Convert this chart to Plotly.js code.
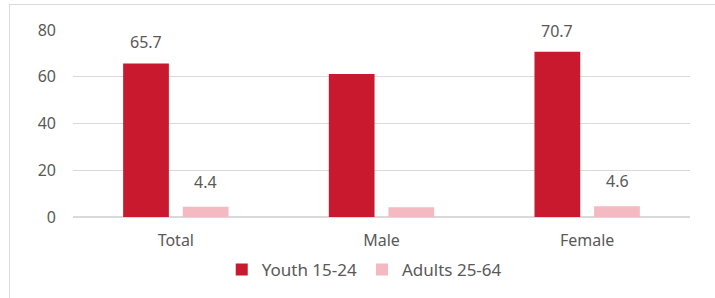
<!DOCTYPE html>
<html>
<head>
<meta charset="utf-8">
<script src="https://cdn.plot.ly/plotly-3.0.1.min.js"></script>
<style>
  html, body { margin: 0; padding: 0; background: #fff; }
  #wrap { position: relative; width: 715px; height: 298px; overflow: hidden; }
  #chart { position: absolute; left: 0; top: 0; width: 715px; height: 298px; }
  #frame { position: absolute; left: 9px; top: 4px; width: 720px; height: 310px;
           border-left: 1px solid #D9D9D9; border-top: 1px solid #D9D9D9; pointer-events: none; }
</style>
</head>
<body>
<div id="wrap"><div id="chart"></div><div id="frame"></div></div>
<script>
const categories = ["Total", "Male", "Female"];
const youth = [65.7, 61.2, 70.7];
const adults = [4.4, 4.2, 4.6];
const youthLabels = ["65.7", "", "70.7"];
const adultLabels = ["4.4", "", "4.6"];
const yTicks = [0, 20, 40, 60, 80];

const font = { family: "Noto Sans, Open Sans, sans-serif", size: 16, color: "#595959" };
const legendFont = { family: "Noto Sans, Open Sans, sans-serif", size: 17, color: "#595959" };

const traces = [
  { type: "bar", name: "Youth 15-24", x: categories, y: youth,
    marker: { color: "#C8192E" }, hoverinfo: "skip" },
  { type: "bar", name: "Adults 25-64", x: categories, y: adults,
    marker: { color: "#F4B9C1" }, hoverinfo: "skip" }
];

const annotations = [];
categories.forEach((c, i) => {
  if (youthLabels[i]) annotations.push({ x: c, y: youth[i], xref: "x", yref: "y", text: youthLabels[i],
    showarrow: false, xshift: -30, yshift: 21, yanchor: "middle", font: font });
  if (adultLabels[i]) annotations.push({ x: c, y: adults[i], xref: "x", yref: "y", text: adultLabels[i],
    showarrow: false, xshift: 30, yshift: 25, yanchor: "middle", font: font });
});

const layout = {
  width: 715, height: 298,
  margin: { l: 73, r: 25, t: 30, b: 81, autoexpand: false },
  paper_bgcolor: "rgba(0,0,0,0)", plot_bgcolor: "#fff",
  font: font,
  barmode: "group", bargap: 0.42, bargroupgap: 0.233,
  showlegend: true,
  legend: { orientation: "h", x: 0.472, xanchor: "center", y: -0.283, yanchor: "middle",
            font: legendFont, itemwidth: 30, traceorder: "normal" },
  xaxis: { type: "category", tickfont: font, showgrid: false, showline: false, ticks: "", zeroline: false,
           ticklabelstandoff: 12, automargin: false },
  yaxis: { range: [0, 80], tickvals: yTicks, tickfont: font, gridcolor: "#D9D9D9", gridwidth: 1,
           zeroline: true, zerolinecolor: "#D9D9D9", zerolinewidth: 1.5, showline: false, ticks: "",
           ticklabelstandoff: 16, automargin: false },
  annotations: annotations
};

Plotly.newPlot("chart", traces, layout, { displayModeBar: false, staticPlot: true });
</script>
</body>
</html>
